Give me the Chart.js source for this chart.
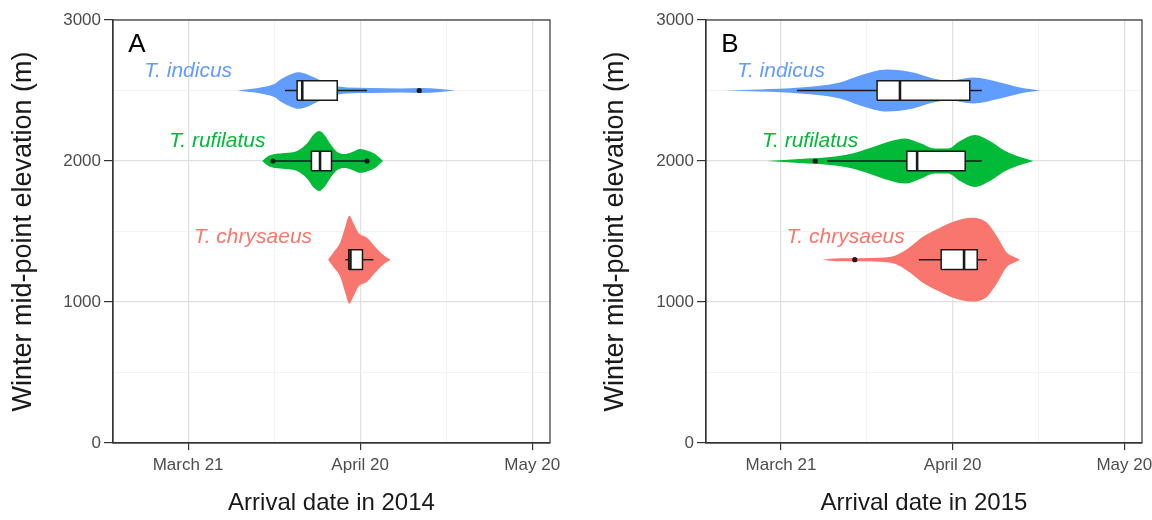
<!DOCTYPE html>
<html>
<head>
<meta charset="utf-8">
<script src="https://cdn.jsdelivr.net/npm/chart.js@4.4.1/dist/chart.umd.min.js"></script>
<style>
  html, body { margin: 0; padding: 0; background: #fff; overflow: hidden; }
  #wrap { position: relative; width: 1152px; height: 520px; overflow: hidden; }
  #chartA { position: absolute; left: 0; top: 0; }
  #chartB { position: absolute; left: 576px; top: 0; }
</style>
</head>
<body>
<div id="wrap">
  <canvas id="chartA" width="576" height="520"></canvas>
  <canvas id="chartB" width="620" height="520"></canvas>
</div>
<script>
// species and where they sit on the elevation axis
const speciesNames = ["T. indicus", "T. rufilatus", "T. chrysaeus"];
const speciesElevation = [2500, 2000, 1300];

// x axis: day of year
const dayTicks = [80, 110, 140];
const dayTickLabels = ["March 21", "April 20", "May 20"];
const elevTicks = [0, 1000, 2000, 3000];

// violin outlines, 2014 (day of year, half width in m)
const indicus2014Days = [88.6, 90.8, 93.1, 95.2, 96.1, 97.8, 99.2, 100.4, 101.8, 103.4, 104.8, 107.7, 111.8, 117.0, 120.5, 124.0, 126.6];
const indicus2014Half = [0, 11, 25, 50, 78, 113, 130, 120, 95, 66, 42, 21, 18, 14, 18, 11, 0];
const rufilatus2014Days = [92.9, 94.0, 95.2, 96.9, 99.0, 100.8, 101.8, 102.9, 103.9, 104.8, 106.0, 107.4, 108.6, 110.0, 111.4, 112.6, 114.0];
const rufilatus2014Half = [0, 35, 50, 57, 71, 127, 184, 212, 177, 120, 64, 50, 64, 85, 71, 50, 0];
const chrysaeus2014Days = [104.4, 105.3, 106.5, 107.4, 108.1, 108.8, 109.7, 111.2, 112.6, 114.0, 115.3];
const chrysaeus2014Half = [0, 50, 120, 234, 312, 262, 191, 156, 92, 35, 0];

// violin outlines, 2015
const indicus2015Days = [70.2, 76.3, 83.3, 90.3, 93.8, 98.5, 103.1, 106.6, 109.5, 113.6, 118.3, 121.8, 125.3];
const indicus2015Half = [0, 7, 21, 57, 106, 149, 127, 85, 71, 92, 57, 21, 0];
const rufilatus2015Days = [77.6, 83.3, 88.6, 92.1, 95.6, 99.1, 101.7, 104.3, 106.9, 109.2, 111.3, 113.9, 116.5, 119.2, 121.8, 124.1];
const rufilatus2015Half = [0, 14, 28, 50, 92, 140, 160, 127, 88, 88, 142, 184, 142, 71, 28, 0];
const chrysaeus2015Days = [87.2, 90.3, 93.8, 97.3, 99.9, 102.6, 104.8, 107.8, 110.1, 113.4, 116.0, 117.8, 119.5, 120.7, 121.8];
const chrysaeus2015Half = [0, 11, 11, 14, 28, 92, 163, 227, 269, 297, 262, 163, 50, 21, 0];

// boxplots: [whisker low, q1, median, q3, whisker high]
const box2014 = [
  [96.9, 99.0, 99.9, 106.0, 111.2],
  [94.8, 101.5, 103.0, 105.0, 111.2],
  [107.4, 108.0, 108.3, 110.4, 112.3],
];
const outliers2014 = [[120.3], [94.8, 111.2], []];
const box2015 = [
  [82.8, 96.8, 100.8, 113.0, 115.1],
  [88.1, 102.0, 103.8, 112.2, 115.1],
  [104.1, 108.0, 112.0, 114.3, 116.0],
];
const outliers2015 = [[], [86.0], [92.9]];

const colors = ["#619CFF", "#00BA38", "#F8766D"];
const BOX_HALF = 70;
const FONT = "'Liberation Sans', Arial, sans-serif";
const INK = "#1a1a1a";

function buildDatasets(violins, boxes, outliers) {
  const ds = [];
  violins.forEach((v, i) => {
    const c = speciesElevation[i];
    ds.push({
      data: v.days.map((d, k) => ({ x: d, y: c + v.half[k] })),
      fill: "+1", backgroundColor: colors[i], borderWidth: 0,
      pointRadius: 0, cubicInterpolationMode: "monotone", order: 10,
    });
    ds.push({
      data: v.days.map((d, k) => ({ x: d, y: c - v.half[k] })),
      fill: false, borderWidth: 0, pointRadius: 0,
      cubicInterpolationMode: "monotone", order: 10,
    });
  });
  boxes.forEach((b, i) => {
    const c = speciesElevation[i];
    const [lo, q1, med, q3, hi] = b;
    ds.push({
      data: [{ x: lo, y: c }, { x: hi, y: c }],
      borderColor: INK, borderWidth: 1.5, pointRadius: 0, fill: false, order: 5,
    });
    ds.push({
      data: [
        { x: q1, y: c - BOX_HALF }, { x: q3, y: c - BOX_HALF },
        { x: q3, y: c + BOX_HALF }, { x: q1, y: c + BOX_HALF },
        { x: q1, y: c - BOX_HALF },
      ],
      fill: "shape", backgroundColor: "#ffffff", borderColor: INK,
      borderWidth: 1.5, pointRadius: 0, tension: 0.000001, order: 4,
    });
    ds.push({
      data: [{ x: med, y: c - BOX_HALF }, { x: med, y: c + BOX_HALF }],
      borderColor: INK, borderWidth: 2.6, pointRadius: 0, fill: false, order: 3,
    });
    ds.push({
      data: outliers[i].map(d => ({ x: d, y: c })),
      showLine: false, pointRadius: 2.6, pointBackgroundColor: INK,
      pointBorderWidth: 0, order: 2,
    });
  });
  return ds;
}

const labelSpots = [[80.0, 2640], [85.1, 2140], [91.3, 1460]];

const decor = {
  id: "decor",
  afterDatasetsDraw(chart, args, opts) {
    const { ctx, chartArea, scales } = chart;
    ctx.save();
    ctx.font = "italic 21px " + FONT;
    ctx.textAlign = "center";
    ctx.textBaseline = "middle";
    speciesNames.forEach((name, i) => {
      ctx.fillStyle = colors[i];
      ctx.fillText(name, scales.x.getPixelForValue(labelSpots[i][0]), scales.y.getPixelForValue(labelSpots[i][1]));
    });
    ctx.fillStyle = "#000";
    ctx.font = "26px " + FONT;
    ctx.fillText(opts.letter, chartArea.left + 24, chartArea.top + 25);
    ctx.restore();
  },
  afterDraw(chart) {
    const { ctx, chartArea } = chart;
    ctx.save();
    ctx.strokeStyle = "#333";
    ctx.lineWidth = 1.2;
    ctx.strokeRect(chartArea.left, chartArea.top, chartArea.right - chartArea.left, chartArea.bottom - chartArea.top);
    ctx.restore();
  },
};

function withMidpoints(arr) {
  const out = [];
  arr.forEach((v, i) => {
    out.push(v);
    if (i < arr.length - 1) out.push((v + arr[i + 1]) / 2);
  });
  return out;
}

function makePanel(id, cfg) {
  const ctx = document.getElementById(id).getContext("2d");
  return new Chart(ctx, {
    type: "line",
    data: { datasets: buildDatasets(cfg.violins, cfg.boxes, cfg.outliers) },
    plugins: [decor],
    options: {
      responsive: false,
      animation: false,
      events: [],
      layout: { padding: { top: 20, right: cfg.padRight, bottom: 0, left: 0 } },
      plugins: { legend: { display: false }, tooltip: { enabled: false }, decor: { letter: cfg.letter } },
      scales: {
        x: {
          type: "linear", min: cfg.xMin, max: cfg.xMax,
          afterBuildTicks: s => { s.ticks = withMidpoints(dayTicks).map(v => ({ value: v })); },
          afterFit: s => { s.height = 77; },
          ticks: {
            autoSkip: false, maxRotation: 0, padding: 5, color: "#4d4d4d",
            font: { family: FONT, size: 17 },
            callback: v => { const i = dayTicks.indexOf(v); return i >= 0 ? dayTickLabels[i] : ""; },
          },
          grid: {
            color: c => dayTicks.includes(c.tick.value) ? "#e0e0e0" : "#efefef",
            lineWidth: c => dayTicks.includes(c.tick.value) ? 1.2 : 0.8,
            tickColor: c => dayTicks.includes(c.tick.value) ? "#333" : "rgba(0,0,0,0)",
            tickLength: 7,
          },
          border: { color: "#333", width: 1.2 },
          title: {
            display: true, text: cfg.xTitle, color: INK,
            font: { family: FONT, size: 24 }, padding: { top: 0, bottom: 2 },
          },
        },
        y: {
          type: "linear", min: 0, max: 3000,
          afterBuildTicks: s => { s.ticks = withMidpoints(elevTicks).map(v => ({ value: v })); },
          afterFit: s => { s.width = cfg.yWidth; },
          ticks: {
            autoSkip: false, padding: 3, color: "#4d4d4d",
            font: { family: FONT, size: 17 },
            callback: v => elevTicks.includes(v) ? String(v) : "",
          },
          grid: {
            color: c => elevTicks.includes(c.tick.value) ? "#e0e0e0" : "#efefef",
            lineWidth: c => elevTicks.includes(c.tick.value) ? 1.2 : 0.8,
            tickColor: c => elevTicks.includes(c.tick.value) ? "#333" : "rgba(0,0,0,0)",
            tickLength: 9,
          },
          border: { color: "#333", width: 1.2 },
          title: {
            display: true, text: "Winter mid-point elevation (m)", color: INK,
            font: { family: FONT, size: 27 }, padding: { top: cfg.yTitlePad, bottom: 0 },
          },
        },
      },
    },
  });
}

makePanel("chartA", {
  letter: "A", xTitle: "Arrival date in 2014",
  xMin: 66.9, xMax: 143.1, yWidth: 113, padRight: 26, yTitlePad: 7,
  violins: [
    { days: indicus2014Days, half: indicus2014Half },
    { days: rufilatus2014Days, half: rufilatus2014Half },
    { days: chrysaeus2014Days, half: chrysaeus2014Half },
  ],
  boxes: box2014, outliers: outliers2014,
});

makePanel("chartB", {
  letter: "B", xTitle: "Arrival date in 2015",
  xMin: 66.9, xMax: 143.1, yWidth: 130, padRight: 54, yTitlePad: 23,
  violins: [
    { days: indicus2015Days, half: indicus2015Half },
    { days: rufilatus2015Days, half: rufilatus2015Half },
    { days: chrysaeus2015Days, half: chrysaeus2015Half },
  ],
  boxes: box2015, outliers: outliers2015,
});
</script>
</body>
</html>
